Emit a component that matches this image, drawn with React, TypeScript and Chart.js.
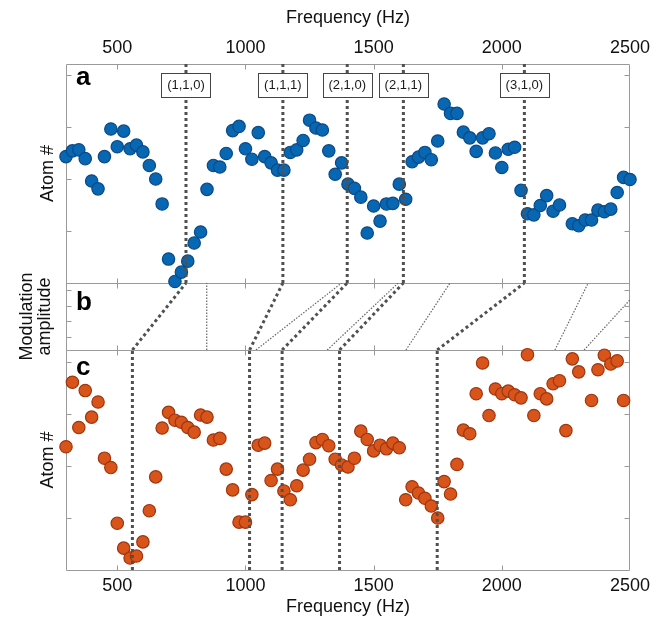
import React, { useEffect, useRef } from 'react';
import { Chart, registerables } from 'chart.js';

Chart.register(...registerables);

// ---------- data ----------
const aFreq = [
  300, 325, 350, 375, 400, 425, 450, 475, 500, 525, 550, 575, 600, 625, 650, 675,
  700, 725, 750, 775, 800, 825, 850, 875, 900, 925, 950, 975, 1000, 1025, 1050, 1075,
  1100, 1125, 1150, 1175, 1200, 1225, 1250, 1275, 1300, 1325, 1350, 1375, 1400, 1425,
  1450, 1475, 1500, 1525, 1550, 1575, 1600, 1625, 1650, 1675, 1700, 1725, 1750, 1775,
  1800, 1825, 1850, 1875, 1900, 1925, 1950, 1975, 2000, 2025, 2050, 2075, 2100, 2125,
  2150, 2175, 2200, 2225, 2275, 2300, 2325, 2350, 2375, 2400, 2425, 2450, 2475, 2500,
];
const aVal = [
  2.43, 2.54, 2.56, 2.39, 1.96, 1.81, 2.43, 2.96, 2.62, 2.92, 2.58, 2.65, 2.52, 2.26, 2.0, 1.52,
  0.46, 0.03, 0.21, 0.42, 0.77, 0.98, 1.8, 2.26, 2.23, 2.49, 2.93, 3.01, 2.58, 2.38, 2.89, 2.43,
  2.31, 2.17, 2.17, 2.51, 2.56, 2.74, 3.13, 2.98, 2.94, 2.54, 2.09, 2.31, 1.9, 1.82,
  1.65, 0.96, 1.48, 1.19, 1.52, 1.53, 1.9, 1.61, 2.33, 2.42, 2.51, 2.37, 2.73, 3.44,
  3.26, 3.26, 2.9, 2.79, 2.53, 2.79, 2.87, 2.5, 2.22, 2.57, 2.61, 1.78, 1.33, 1.31,
  1.49, 1.68, 1.38, 1.5, 1.14, 1.1, 1.21, 1.21, 1.4, 1.37, 1.42, 1.74, 2.03, 1.99,
];

const cFreq = [
  300, 325, 350, 375, 400, 425, 450, 475, 500, 525, 550, 575, 600, 625, 650, 675,
  700, 725, 750, 775, 800, 825, 850, 875, 900, 925, 950, 975, 1000, 1025, 1050, 1075,
  1100, 1125, 1150, 1175, 1200, 1225, 1250, 1275, 1300, 1325, 1350, 1375, 1400, 1425,
  1450, 1475, 1500, 1525, 1550, 1575, 1600, 1625, 1650, 1675, 1700, 1725, 1750, 1775,
  1800, 1825, 1850, 1875, 1900, 1925, 1950, 1975, 2000, 2025, 2050, 2075, 2100, 2125,
  2150, 2175, 2200, 2225, 2250, 2275, 2300, 2350, 2375, 2400, 2425, 2450, 2475,
];
const cVal = [
  2.37, 3.61, 2.74, 3.45, 2.94, 3.23, 2.15, 1.97, 0.9, 0.42, 0.23, 0.27, 0.54, 1.14, 1.79, 2.73,
  3.03, 2.88, 2.84, 2.74, 2.65, 2.98, 2.94, 2.5, 2.53, 1.94, 1.54, 0.92, 0.92, 1.45, 2.4, 2.44,
  1.72, 1.94, 1.52, 1.35, 1.62, 1.92, 2.13, 2.45, 2.51, 2.39, 2.13, 2.02, 1.98, 2.15,
  2.67, 2.51, 2.29, 2.4, 2.33, 2.44, 2.35, 1.35, 1.6, 1.48, 1.38, 1.23, 1.0, 1.7,
  1.46, 2.03, 2.69, 2.62, 3.39, 3.98, 2.97, 3.48, 3.39, 3.44, 3.37, 3.31, 4.14, 2.97,
  3.39, 3.29, 3.58, 3.64, 2.68, 4.06, 3.81, 3.26, 3.85, 4.13, 3.96, 4.02, 3.26,
];

// resonance lines (Hz)
const modeLabels = ['(1,1,0)', '(1,1,1)', '(2,1,0)', '(2,1,1)', '(3,1,0)'];
const aLineFreq = [768, 1146, 1397, 1616, 2088];
const cLineFreq = [559, 1016, 1143, 1367, 1748];

// panel b thin guide lines: frequency at amplitude 0, frequency / amplitude at end
const thinLow = [849, 1041, 1319, 1626, 2207, 2321];
const thinHigh = [849, 1375, 1596, 1798, 2337, 2500];
const thinHighAmp = [1, 1, 1, 1, 1, 0.75];

// ticks
const xLabelVals = [500, 1000, 1500, 2000, 2500];
const xTickVals = [500, 1000, 1500, 2000];
const aTickVals = [1, 2, 3, 4];
const bTickVals = [0.19, 0.43, 0.66, 0.9];
const cTickVals = [1, 2, 3, 4];

const FONT = '"Liberation Sans", Arial, Helvetica, sans-serif';
const FRAME = '#9a9a9a';
const DOT = '#505050';
const THIN = '#666666';

const panelPlugin = {
  id: 'panelFrames',
  beforeDatasetsDraw(chart: any) {
    const { ctx, chartArea, scales } = chart;
    const x = scales.x;
    const L = chartArea.left;
    const R = chartArea.right;
    ctx.save();
    ctx.strokeStyle = FRAME;
    ctx.lineWidth = 1;
    const panels: [string, number[]][] = [
      ['ya', aTickVals],
      ['yb', bTickVals],
      ['yc', cTickVals],
    ];
    for (const [id, tv] of panels) {
      const y = scales[id];
      const top = Math.round(y.top) + 0.5;
      const bot = Math.round(y.bottom) + 0.5;
      const l = Math.round(L) + 0.5;
      const r = Math.round(R) - 0.5;
      ctx.beginPath();
      ctx.rect(l, top, r - l, bot - top);
      for (const v of xTickVals) {
        const px = Math.round(x.getPixelForValue(v)) + 0.5;
        ctx.moveTo(px, top);
        ctx.lineTo(px, top + 5);
        ctx.moveTo(px, bot);
        ctx.lineTo(px, bot - 5);
      }
      for (const v of tv) {
        const py = Math.round(y.getPixelForValue(v)) + 0.5;
        ctx.moveTo(l, py);
        ctx.lineTo(l + 5, py);
        ctx.moveTo(r, py);
        ctx.lineTo(r - 5, py);
      }
      ctx.stroke();
    }
    ctx.restore();
  },
  afterDatasetsDraw(chart: any) {
    const { ctx, chartArea, scales } = chart;
    const x = scales.x;
    const ya = scales.ya;
    const yb = scales.yb;
    const yc = scales.yc;
    ctx.save();
    ctx.font = `13px ${FONT}`;
    ctx.textAlign = 'center';
    ctx.textBaseline = 'middle';
    modeLabels.forEach((t, i) => {
      const px = x.getPixelForValue(aLineFreq[i]);
      const cy = ya.top + 21.3;
      const w = Math.round(ctx.measureText(t).width + 11);
      const h = 24;
      const bx = Math.round(px - w / 2) + 0.5;
      const by = Math.round(cy - h / 2) + 0.5;
      ctx.fillStyle = '#ffffff';
      ctx.fillRect(bx, by, w, h);
      ctx.strokeStyle = '#444444';
      ctx.lineWidth = 1;
      ctx.strokeRect(bx, by, w, h);
      ctx.fillStyle = '#1a1a1a';
      ctx.fillText(t, px, cy + 0.5);
    });
    ctx.font = `bold 26px ${FONT}`;
    ctx.textAlign = 'left';
    ctx.textBaseline = 'alphabetic';
    ctx.fillStyle = '#000000';
    ctx.fillText('a', chartArea.left + 10, ya.top + 21);
    ctx.fillText('b', chartArea.left + 10, yb.top + 27);
    ctx.fillText('c', chartArea.left + 10, yc.top + 25);
    ctx.restore();
  },
};

function lineDs(points: { x: number; y: number }[], yAxisID: string, thick: boolean) {
  return {
    type: 'scatter' as const,
    data: points,
    yAxisID,
    xAxisID: 'x',
    showLine: true,
    pointRadius: 0,
    pointHoverRadius: 0,
    borderColor: thick ? DOT : THIN,
    borderWidth: thick ? 3 : 1.2,
    borderDash: thick ? [3, 3] : [1.5, 1.5],
    borderCapStyle: 'butt',
    fill: false,
    order: 0,
  };
}

export default function App() {
  const ref = useRef<HTMLCanvasElement | null>(null);

  useEffect(() => {
    document.body.style.margin = '0';
    const canvas = ref.current;
    if (!canvas) return;

    const aMax = 4.21;
    const cMax = 4.23;

    const datasets: any[] = [];
    // vertical lines in a and c
    aLineFreq.forEach((f) =>
      datasets.push(lineDs([{ x: f, y: 0 }, { x: f, y: aMax }], 'ya', true))
    );
    cLineFreq.forEach((f) =>
      datasets.push(lineDs([{ x: f, y: 0 }, { x: f, y: cMax }], 'yc', true))
    );
    // panel b connecting lines
    cLineFreq.forEach((f, i) =>
      datasets.push(lineDs([{ x: f, y: 0 }, { x: aLineFreq[i], y: 1 }], 'yb', true))
    );
    thinLow.forEach((f, i) =>
      datasets.push(
        lineDs([{ x: f, y: 0 }, { x: thinHigh[i], y: thinHighAmp[i] }], 'yb', false)
      )
    );
    datasets.push({
      type: 'scatter',
      data: aFreq.map((f, i) => ({ x: f, y: aVal[i] })),
      yAxisID: 'ya',
      xAxisID: 'x',
      pointRadius: 6.2,
      pointBackgroundColor: '#0767b3',
      pointBorderColor: '#0a4a86',
      pointBorderWidth: 1.2,
      clip: false,
      order: 1,
    });
    datasets.push({
      type: 'scatter',
      data: cFreq.map((f, i) => ({ x: f, y: cVal[i] })),
      yAxisID: 'yc',
      xAxisID: 'x',
      pointRadius: 6.2,
      pointBackgroundColor: '#d8541b',
      pointBorderColor: '#9e360e',
      pointBorderWidth: 1.2,
      clip: false,
      order: 1,
    });

    const hiddenY = (min: number, max: number, weight: number, title: any) => ({
      type: 'linear',
      position: 'left',
      stack: 'panels',
      stackWeight: weight,
      min,
      max,
      grid: { display: false, drawTicks: false },
      border: { display: false },
      ticks: { display: false },
      title,
      afterFit: (s: any) => {
        s.width = 66;
      },
    });

    const xAxis = (position: string, h: number, tickPad: number, titlePad: any) => ({
      type: 'linear',
      position,
      min: 300,
      max: 2500,
      grid: { display: false, drawTicks: false },
      border: { display: false },
      ticks: {
        color: '#111111',
        padding: tickPad,
        font: { family: FONT, size: 18 },
        maxRotation: 0,
        autoSkip: false,
        callback: (v: any) => String(v),
      },
      afterBuildTicks: (s: any) => {
        s.ticks = xLabelVals.map((v) => ({ value: v }));
      },
      title: {
        display: true,
        text: 'Frequency (Hz)',
        color: '#111111',
        font: { family: FONT, size: 18 },
        padding: titlePad,
      },
      afterFit: (s: any) => {
        s.height = h;
      },
    });

    const chart = new Chart(canvas, {
      type: 'scatter',
      data: { datasets },
      options: {
        animation: false,
        responsive: false,
        devicePixelRatio: 1,
        layout: { padding: { top: 0, left: 0, right: 34, bottom: 0 } },
        plugins: {
          legend: { display: false },
          tooltip: { enabled: false },
        },
        events: [],
        scales: {
          x: xAxis('bottom', 51, 5, { top: 0, bottom: 3 }),
          x2: xAxis('top', 64, 5, { top: 7, bottom: 0 }),
          yc: hiddenY(0, cMax, 220, {
            display: true,
            text: 'Atom #',
            color: '#111111',
            font: { family: FONT, size: 18 },
            padding: { top: 37, bottom: 0 },
          }),
          yb: hiddenY(0, 1, 67, {
            display: true,
            text: ['Modulation', 'amplitude'],
            color: '#111111',
            font: { family: FONT, size: 18, lineHeight: 1.0 },
            padding: { top: 18, bottom: 0 },
          }),
          ya: hiddenY(0, aMax, 219, {
            display: true,
            text: 'Atom #',
            color: '#111111',
            font: { family: FONT, size: 18 },
            padding: { top: 37, bottom: 0 },
          }),
        } as any,
      },
      plugins: [panelPlugin as any],
    } as any);

    return () => {
      chart.destroy();
    };
  }, []);

  return (
    <div style={{ width: 664, height: 621, position: 'relative', background: '#fff' }}>
      <canvas ref={ref} width={664} height={621} style={{ display: 'block' }} />
    </div>
  );
}
